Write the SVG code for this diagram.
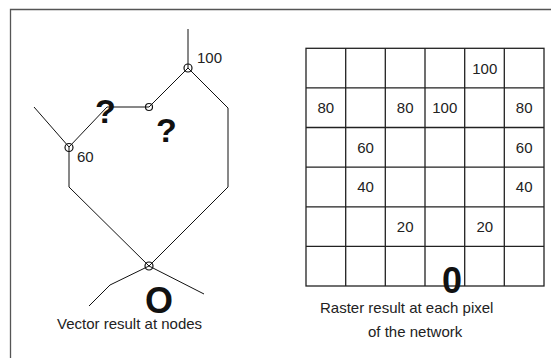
<svg xmlns="http://www.w3.org/2000/svg" width="551" height="358" viewBox="0 0 551 358">
<style>
.frame{fill:none;stroke:#555;stroke-width:1.3}
.edge{fill:none;stroke:#111;stroke-width:1}
.node{fill:none;stroke:#111;stroke-width:1.2}
.grid{fill:none;stroke:#222;stroke-width:1.3}
.t{font-family:"Liberation Sans",Arial,sans-serif;font-size:15px;fill:#222}
.c{text-anchor:middle}
.big{font-family:"Liberation Sans",Arial,sans-serif;font-weight:bold;fill:#111}
</style>
<rect width="551" height="358" fill="#fff"/>
<path class="frame" d="M10.5,358 V9.5 H551"/>
<g id="connectors">
<path class="edge" d="M188,29 V68"/>
<path class="edge" d="M188,68 L149,107 H107 L69,147"/>
<path class="edge" d="M34,107 L69,147"/>
<path class="edge" d="M69,147 V187 L149,266"/>
<path class="edge" d="M188,68 L228,108 V187 L149,266"/>
<path class="edge" d="M149,266 L110,285 L89,306"/>
<path class="edge" d="M149,266 L204,294"/>
</g>
<g id="node-top"><circle class="node" cx="188" cy="68" r="4"/><text class="t" x="197" y="63">100</text></g>
<g id="node-mid"><circle class="node" cx="149" cy="107" r="3.5"/></g>
<g id="node-60"><circle class="node" cx="69" cy="147.5" r="4"/><text class="t" x="77" y="162">60</text></g>
<g id="node-bottom"><circle class="node" cx="149" cy="266" r="4"/></g>
<g id="unknowns">
<text class="big" x="95" y="123" font-size="34">?</text>
<text class="big" x="156" y="142" font-size="34">?</text>
</g>
<text class="big" x="145" y="313" font-size="36">O</text>
<text class="t" x="57" y="329">Vector result at nodes</text>
<g id="raster">
<rect class="grid" x="306" y="48.3" width="238" height="237.7"/>
<path class="grid" d="M345.7,48.3 V286 M385.3,48.3 V286 M425,48.3 V286 M464.7,48.3 V286 M504.3,48.3 V286 M306,87.9 H544 M306,127.5 H544 M306,167.1 H544 M306,206.8 H544 M306,246.4 H544"/>
<g class="t c">
<text x="484.8" y="73.5">100</text>
<text x="325.8" y="113">80</text>
<text x="405.2" y="113">80</text>
<text x="444.8" y="113">100</text>
<text x="524.2" y="113">80</text>
<text x="365.5" y="152.5">60</text>
<text x="524.2" y="152.5">60</text>
<text x="365.5" y="192">40</text>
<text x="524.2" y="192">40</text>
<text x="405.2" y="232">20</text>
<text x="484.8" y="232">20</text>
</g>
<text class="big" x="452" y="293" font-size="36" text-anchor="middle">0</text>
</g>
<text class="t" x="320" y="313">Raster result at each pixel</text>
<text class="t" x="368" y="337">of the network</text>
</svg>
